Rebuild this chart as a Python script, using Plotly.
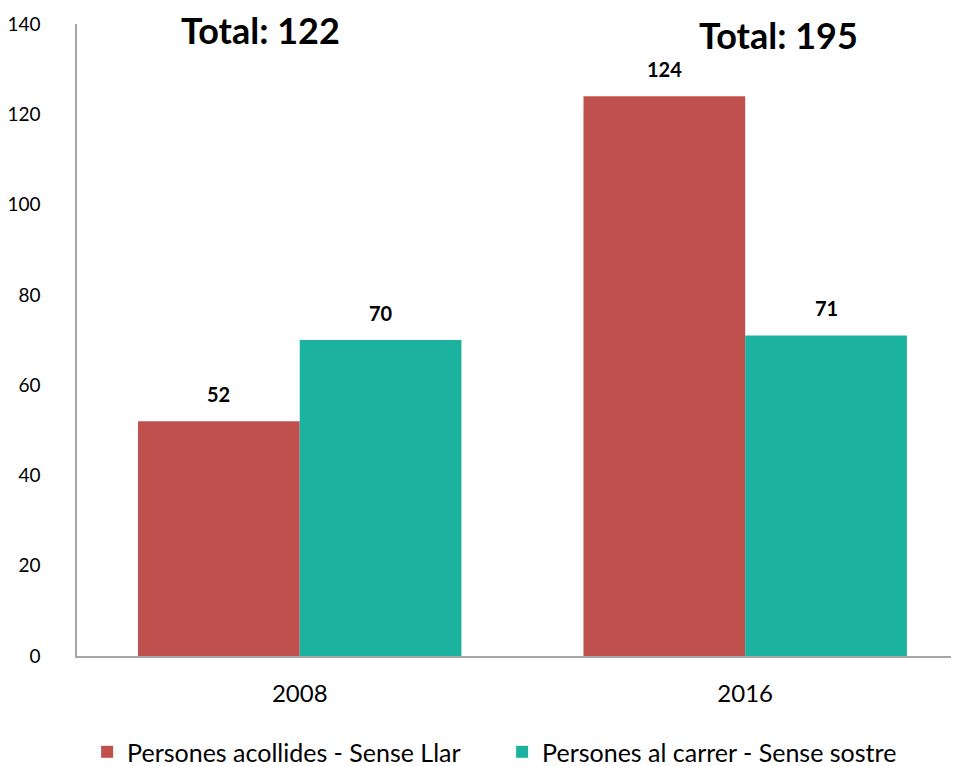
import plotly.graph_objects as go

years = ["2008", "2016"]
acollides = [52, 124]
carrer = [70, 71]
totals = [122, 195]

series_names = ["Persones acollides - Sense Llar", "Persones al carrer - Sense sostre"]
series_colors = ["#C0504D", "#1BB3A0"]

FONT = "Lato"
BARGAP = 0.274

fig = go.Figure()

for name, vals, color in zip(series_names, [acollides, carrer], series_colors):
    fig.add_trace(go.Bar(
        x=years,
        y=vals,
        name=name,
        marker=dict(color=color, line=dict(width=0)),
    ))

# value labels above each bar (offset = half a bar width within the group)
half = (1 - BARGAP) / 4
for s, vals in enumerate([acollides, carrer]):
    for i, v in enumerate(vals):
        fig.add_annotation(
            x=i + (-half if s == 0 else half), y=v,
            xref="x", yref="y",
            text=f"<b>{v}</b>",
            showarrow=False,
            yanchor="middle",
            yshift=27,
            font=dict(family=FONT, size=20, color="#000000"),
        )

# totals above each group
for i, tot in enumerate(totals):
    fig.add_annotation(
        x=i, y=0.99 - 0.007 * i,
        xref="x", yref="paper",
        xshift=-39 if i == 0 else 33,
        text=f"<b>Total: {tot}</b>",
        showarrow=False,
        font=dict(family=FONT, size=36, color="#000000"),
        yanchor="middle",
        borderpad=0,
    )

# page body adds an 8px margin, so the figure is sized 8px smaller
fig.update_layout(
    width=951,
    height=758,
    barmode="group",
    bargap=BARGAP,
    bargroupgap=0,
    plot_bgcolor="white",
    paper_bgcolor="white",
    margin=dict(l=69, r=0, t=16, b=110, autoexpand=False),
    font=dict(family=FONT, size=20, color="#000000"),
    legend=dict(
        orientation="h",
        x=0.482, xanchor="center",
        y=-0.152, yanchor="middle",
        font=dict(family=FONT, size=25),
        traceorder="normal",
        entrywidth=370,
        itemwidth=30,
    ),
)

fig.update_xaxes(
    type="category",
    range=[-0.5, 1.48],
    showline=True,
    linecolor="#A6A6A6",
    linewidth=1.5,
    showgrid=False,
    ticks="",
    automargin=False,
    ticklabelstandoff=15,
    tickfont=dict(family=FONT, size=24),
)

fig.update_yaxes(
    range=[0, 140],
    dtick=20,
    showline=True,
    linecolor="#A6A6A6",
    linewidth=1.5,
    showgrid=False,
    zeroline=False,
    ticks="",
    automargin=False,
    ticklabelstandoff=31,
    tickfont=dict(family=FONT, size=19),
)

fig.write_html("out.html")
